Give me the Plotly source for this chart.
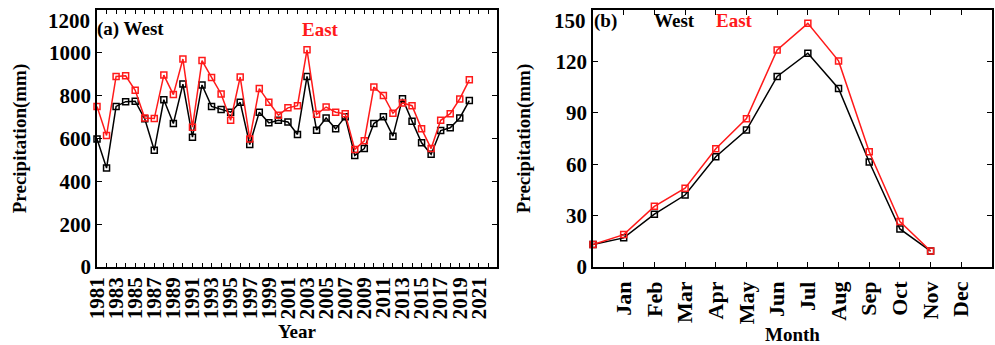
import numpy as np
import plotly.graph_objects as go
from plotly.subplots import make_subplots

# Annual precipitation (mm), 1981-2020
years = list(range(1981, 2021))
west_annual = [598, 462, 750, 772, 774, 692, 545, 781, 670, 854,
               606, 850, 750, 735, 723, 769, 572, 723, 673, 685,
               677, 619, 890, 639, 696, 645, 701, 521, 553, 670,
               701, 611, 786, 681, 580, 526, 637, 650, 696, 777]
east_annual = [750, 614, 890, 893, 825, 696, 693, 896, 805, 971,
               653, 964, 885, 808, 685, 887, 598, 833, 769, 709,
               743, 753, 1014, 713, 747, 723, 715, 549, 589, 840,
               801, 718, 766, 753, 645, 553, 685, 716, 785, 874]

# Monthly climatology (mm); the series holds 12 values
months = ["Jan", "Feb", "Mar", "Apr", "May", "Jun",
          "Jul", "Aug", "Sep", "Oct", "Nov", "Dec"]
west_monthly = [13.1, 17.0, 30.8, 42.0, 64.4, 79.9, 111.2, 124.8, 104.2, 61.3, 22.2, 9.3]
east_monthly = [13.1, 18.9, 35.4, 46.0, 69.0, 86.6, 126.7, 142.2, 120.3, 67.3, 26.5, 9.3]

year_ticks = list(range(1981, 2022, 2))
annual_yticks = [0, 200, 400, 600, 800, 1000, 1200]
monthly_yticks = [0, 30, 60, 90, 120, 150]

FONT = "Liberation Serif"
W, H = 995, 345
RED = "#ff1a1a"

fig = make_subplots(rows=1, cols=2)

def add_series(x, y, color, col):
    fig.add_trace(go.Scatter(
        x=x, y=y, mode="lines+markers",
        line=dict(color=color, width=1.5),
        marker=dict(symbol="square-open", size=6, color=color,
                    line=dict(width=1.5, color=color)),
        cliponaxis=False, showlegend=False), row=1, col=col)

add_series(years, west_annual, "black", 1)
add_series(years, east_annual, RED, 1)
month_pos = np.arange(len(months))
add_series(month_pos, west_monthly, "black", 2)
add_series(month_pos, east_monthly, RED, 2)

tickfont = dict(family=FONT, size=21, color="black")
monthfont = dict(family=FONT, size=22, color="black")
titlefont = dict(family=FONT, size=19, color="black")

def px_x(p):
    return p / W

def px_y(p):
    return 1 - p / H

def y_ticktext(values):
    # the topmost label sits just below the frame, drawn separately
    return [f"<b>{v}</b>" for v in values[:-1]] + [""]

common_axis = dict(showline=True, linecolor="black", linewidth=1.5,
                   mirror="ticks", ticks="inside", tickcolor="black",
                   tickwidth=1.2, showgrid=False, zeroline=False,
                   tickfont=tickfont, automargin=False,
                   ticklabeloverflow="allow")

fig.update_layout(
    width=W, height=H,
    margin=dict(l=0, r=0, t=0, b=0),
    paper_bgcolor="white", plot_bgcolor="white",
    font=dict(family=FONT, color="black"),
    xaxis=dict(common_axis, domain=[px_x(97), px_x(497)],
               range=[1981, 2022.9], tickvals=year_ticks,
               ticktext=[f"<b>{y}</b>" for y in year_ticks],
               tickangle=-90, ticklen=4,
               minor=dict(dtick=1, tick0=1981, ticks="inside", ticklen=4,
                          tickcolor="black", tickwidth=1.2),
               title=dict(text="<b>Year</b>", font=titlefont, standoff=7)),
    yaxis=dict(common_axis, domain=[px_y(267), px_y(10)],
               range=[0, 1200], tickvals=annual_yticks,
               ticktext=y_ticktext(annual_yticks), ticklen=5,
               title=dict(text="<b>Precipitation(mm)</b>", font=titlefont, standoff=17)),
    xaxis2=dict(common_axis, domain=[px_x(593), px_x(992)],
                range=[0, 13], tickvals=list(range(1, 13)),
                ticktext=[f"<b>{m}</b>" for m in months],
                tickangle=-90, ticklen=5, tickfont=monthfont,
                ticklabelstandoff=4,
                title=dict(text="<b>Month</b>", font=titlefont, standoff=4)),
    yaxis2=dict(common_axis, domain=[px_y(267), px_y(10)],
                range=[0, 150], tickvals=monthly_yticks,
                ticktext=y_ticktext(monthly_yticks), ticklen=5,
                title=dict(text="<b>Precipitation(mm)</b>", font=titlefont, standoff=20)),
)

def label(text, x, y, color="black", anchor="left", size=19):
    fig.add_annotation(text=f"<b>{text}</b>", x=px_x(x), y=px_y(y),
                       xref="paper", yref="paper", xanchor=anchor, yanchor="middle",
                       showarrow=False, font=dict(family=FONT, size=size, color=color))

# top y-axis labels
label(annual_yticks[-1], 92, 21, anchor="right", size=21)
label(monthly_yticks[-1], 588, 21, anchor="right", size=21)

label("(a) West", 95, 29)
label("East", 300, 29, RED)
label("(b)", 592, 21)
label("West", 652, 21)
label("East", 714, 21, RED)

fig.write_html("out.html")
